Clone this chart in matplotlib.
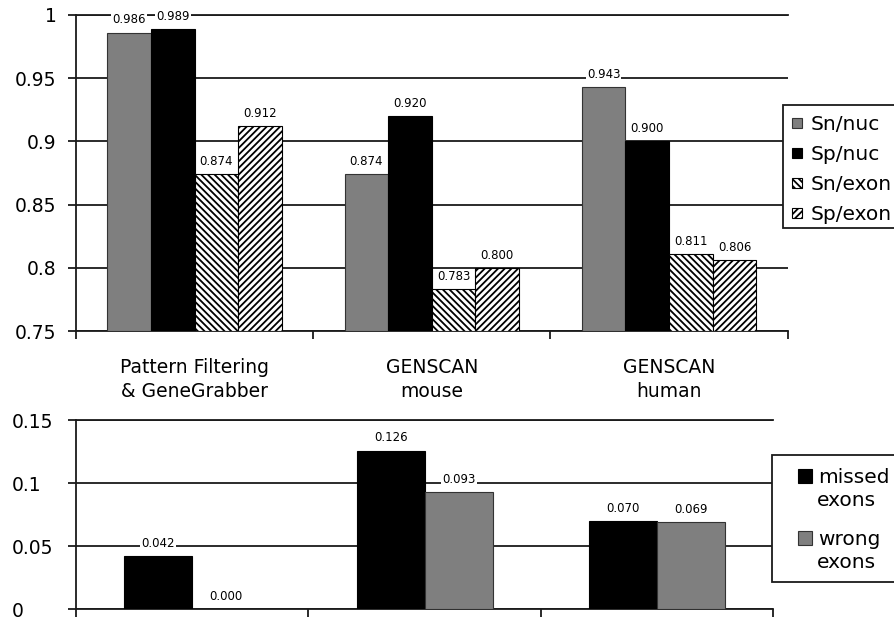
import matplotlib
matplotlib.use("Agg")
import matplotlib.pyplot as plt
from matplotlib.ticker import FixedLocator, FormatStrFormatter
from matplotlib.patches import Rectangle

# ---- data ----
methods = ["Pattern Filtering\n& GeneGrabber", "GENSCAN\nmouse", "GENSCAN\nhuman"]
accuracy_series = ["Sn/nuc", "Sp/nuc", "Sn/exon", "Sp/exon"]
sn_nuc = [0.986, 0.874, 0.943]
sp_nuc = [0.989, 0.920, 0.900]
sn_exon = [0.874, 0.783, 0.811]
sp_exon = [0.912, 0.800, 0.806]
error_series = ["missed\nexons", "wrong\nexons"]
missed_exons = [0.042, 0.126, 0.070]
wrong_exons = [0.000, 0.093, 0.069]

plt.rcParams["font.family"] = ["DejaVu Sans"]
plt.rcParams["hatch.linewidth"] = 1.3
plt.rcParams["hatch.color"] = "black"

GRAY = "#7f7f7f"
LINE = "#1a1a1a"
LW = 1.3
W, H = 894, 619

fig = plt.figure(figsize=(W / 100, H / 100), dpi=100)
ax1 = fig.add_axes([0.085, 0.465, 0.796, 0.511])
ax2 = fig.add_axes([0.085, 0.016, 0.780, 0.305])


def fx(px):
    return px / W


def fy(py):
    return 1 - py / H


def style_axes(ax, ymin, ymax, step):
    ax.set_xlim(-0.5, len(methods) - 0.5)
    ax.set_ylim(ymin, ymax)
    ax.set_axisbelow(True)
    ax.spines["right"].set_visible(False)
    for side in ("left", "bottom", "top"):
        ax.spines[side].set_color(LINE)
        ax.spines[side].set_linewidth(LW)
    ticks = []
    v = ymin
    while v <= ymax + 1e-9:
        ticks.append(round(v, 4))
        v += step
    ax.yaxis.set_major_locator(FixedLocator(ticks))
    ax.yaxis.set_major_formatter(FormatStrFormatter("%g"))
    ax.yaxis.grid(True, color=LINE, linewidth=LW)
    ax.tick_params(axis="y", direction="out", length=6, width=LW, color=LINE,
                   labelsize=13.5)
    # category separators on the x axis
    ax.xaxis.set_major_locator(FixedLocator([i - 0.5 for i in range(len(methods) + 1)]))
    ax.xaxis.set_major_formatter(plt.NullFormatter())
    ax.tick_params(axis="x", which="major", direction="out", length=5.5,
                   width=LW, color=LINE)


def label_bar(ax, bar, value):
    ax.annotate(f"{value:.3f}", (bar.get_x() + bar.get_width() / 2, value),
                xytext=(0, 4.5), textcoords="offset points",
                ha="center", va="bottom", fontsize=8.5, zorder=6,
                bbox=dict(boxstyle="square,pad=0.1", fc="white", ec="none"))


def legend_box(left, top, bottom):
    fig.add_artist(Rectangle((fx(left), fy(bottom)), fx(W + 20 - left),
                             fy(top) - fy(bottom), transform=fig.transFigure,
                             facecolor="white", edgecolor=LINE, linewidth=LW,
                             zorder=5))


def legend_key(left, top, size_w, size_h, style):
    fig.add_artist(Rectangle((fx(left), fy(top + size_h)), fx(size_w),
                             fy(top) - fy(top + size_h), transform=fig.transFigure,
                             facecolor=style["color"], edgecolor=style["edgecolor"],
                             hatch=style.get("hatch"), linewidth=0.8, zorder=6))


# ---- top panel: sensitivity / specificity ----
style_axes(ax1, 0.75, 1.0, 0.05)
ax1.tick_params(axis="y", pad=8)
x = range(len(methods))
w1 = 0.184
styles = [
    dict(color=GRAY, edgecolor="#333333"),
    dict(color="black", edgecolor="black"),
    dict(color="white", edgecolor="black", hatch="\\" * 5),
    dict(color="white", edgecolor="black", hatch="/" * 5),
]
top_values = [sn_nuc, sp_nuc, sn_exon, sp_exon]
for k, (vals, st) in enumerate(zip(top_values, styles)):
    pos = [i + (k - 1.5) * w1 for i in x]
    bars = ax1.bar(pos, [v - 0.75 for v in vals], bottom=0.75, width=w1,
                   linewidth=0.8, zorder=3, **st)
    for b, v in zip(bars, vals):
        label_bar(ax1, b, v)

ax1.xaxis.set_minor_locator(FixedLocator(list(x)))
ax1.set_xticklabels(methods, minor=True)
ax1.tick_params(axis="x", which="minor", length=0, pad=19, labelsize=13.5)
for t in ax1.get_xticklabels(minor=True):
    t.set_linespacing(1.35)

# legend for the top panel
legend_box(783, 105, 228)
for k, (lab, st) in enumerate(zip(accuracy_series, styles)):
    cy = 123 + 30 * k
    legend_key(792, cy - 5, 10, 10, st)
    fig.text(fx(811), fy(cy + 7), lab, fontsize=14.5, ha="left",
             va="baseline", zorder=7)

# ---- bottom panel: exon errors ----
style_axes(ax2, 0.0, 0.15, 0.05)
w2 = 0.293
bottom_styles = [
    dict(color="black", edgecolor="black"),
    dict(color=GRAY, edgecolor="#333333"),
]
for k, (vals, st) in enumerate(zip([missed_exons, wrong_exons], bottom_styles)):
    pos = [i + (k - 0.5) * w2 for i in x]
    bars = ax2.bar(pos, vals, width=w2, linewidth=0.8, zorder=3, **st)
    for b, v in zip(bars, vals):
        label_bar(ax2, b, v)

ax2.tick_params(axis="y", pad=40)
for t in ax2.get_yticklabels():
    t.set_horizontalalignment("left")

# legend for the bottom panel
legend_box(772, 455, 582)
for k, (lab, st) in enumerate(zip(error_series, bottom_styles)):
    cy = 476 + 62 * k
    legend_key(798, cy - 7, 14, 14, st)
    first, second = lab.split("\n")
    fig.text(fx(818), fy(cy + 7), first, fontsize=14.5, ha="left",
             va="baseline", zorder=7)
    fig.text(fx(846), fy(cy + 30), second, fontsize=14.5, ha="center",
             va="baseline", zorder=7)

fig.savefig("out.png", dpi=100)
